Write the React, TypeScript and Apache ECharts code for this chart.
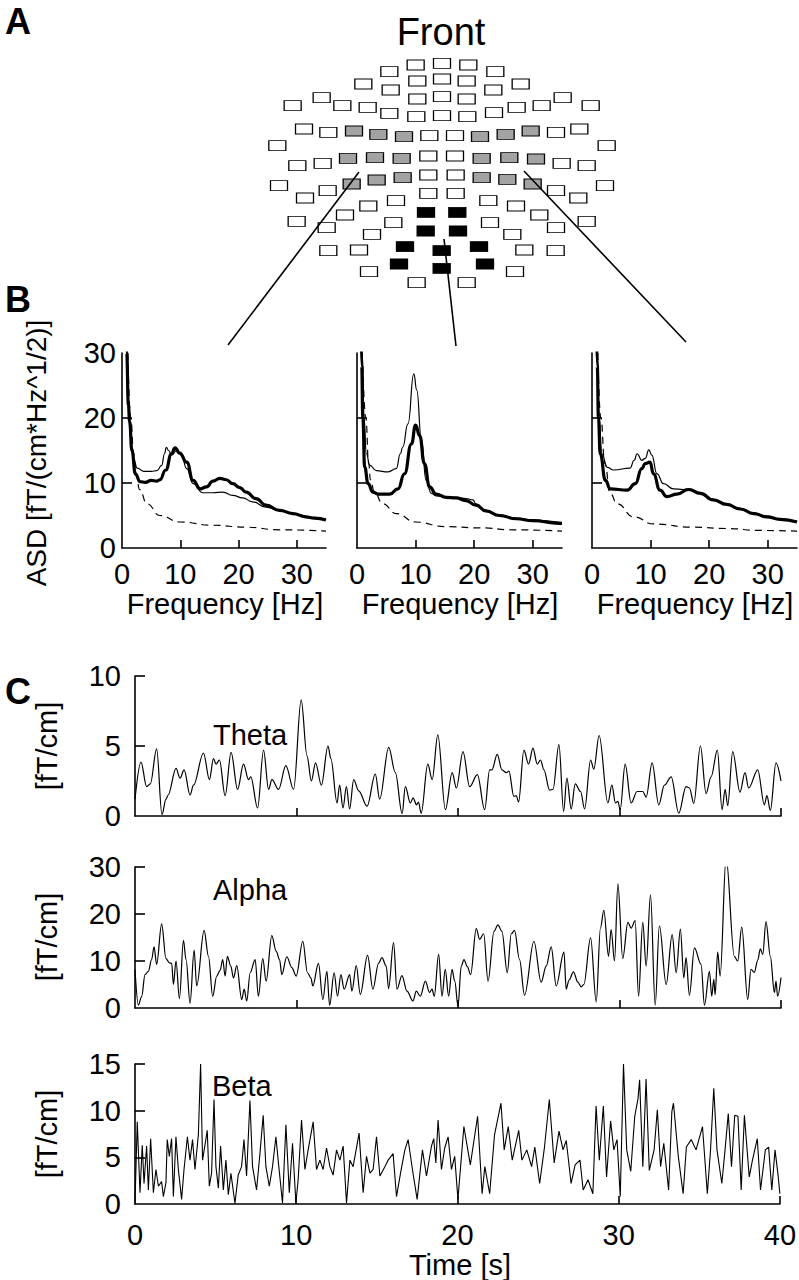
import React, { useEffect, useRef } from 'react';
import * as echarts from 'echarts';

const FONT = 'Liberation Sans, Arial, Helvetica, sans-serif';

// ---- Panel A: sensor layout (layout units, 3 units = 1 px) ----
const whiteSensors: [number, number][] = [
  [467, 75], [546, 70], [625, 75],
  [388, 95], [706, 95],
  [472, 123], [546, 117], [620, 123],
  [310, 132], [782, 132],
  [392, 150], [700, 150],
  [185, 173], [908, 173],
  [472, 177], [546, 170], [620, 177],
  [98, 197], [247, 197], [323, 202], [770, 202], [845, 197], [992, 197],
  [388, 220], [702, 218],
  [469, 230], [546, 227], [622, 230],
  [132, 267], [205, 277], [508, 287], [585, 287], [888, 277], [958, 267],
  [52, 317], [1040, 317],
  [112, 377], [188, 370], [505, 348], [585, 348], [905, 370], [980, 377],
  [57, 437], [505, 405], [587, 405], [1035, 437],
  [135, 474], [203, 452], [888, 452], [955, 474],
  [505, 460], [587, 460],
  [325, 498], [408, 482], [685, 482], [768, 498],
  [110, 544], [255, 525], [400, 548], [690, 548], [838, 525], [980, 544],
  [200, 563], [888, 563],
  [336, 583], [757, 583],
  [205, 632], [297, 630], [793, 630], [887, 632],
  [327, 695], [765, 695],
  [470, 728], [620, 728],
];
const graySensors: [number, number][] = [
  [282, 273], [355, 283], [432, 290], [660, 290], [737, 283], [812, 273],
  [264, 355], [345, 353], [425, 355], [665, 355], [748, 353], [828, 357],
  [275, 432], [350, 420], [428, 413], [665, 413], [742, 418], [818, 432],
];
const blackSensors: [number, number][] = [
  [498, 517], [592, 517], [497, 573], [594, 573], [435, 620], [545, 632],
  [657, 620], [417, 672], [545, 685], [675, 672],
];

// ---- Panel B: amplitude spectral density [f (Hz), ASD] ----
const freqLabels = [0, 10, 20, 30];
const asdLabels = [0, 10, 20, 30];

const leftThick: [number, number][] = [
  [0.5, 42], [0.8, 30], [1.1, 22], [1.3, 19.5], [1.7, 15], [2.3, 11.4], [3.1, 10.2], [4, 10.1],
  [5, 10.4], [6, 10.3], [6.5, 10.5], [7.5, 12], [8.5, 14.5], [9.1, 15.4], [9.9, 14.6], [11.1, 13.2],
  [12.2, 10.4], [13.4, 9.1], [14.5, 9.4], [15.6, 10.3], [16.8, 10.7], [17.9, 10.5], [19, 9.9],
  [20.2, 9.3], [21.3, 8.6], [23, 7.6], [24.7, 6.6], [27, 5.8], [29.3, 5.3], [31.5, 4.8], [33, 4.6], [35, 4.3],
];
const leftThin: [number, number][] = [
  [0.5, 42], [0.8, 30], [1.1, 22], [1.4, 17.5], [1.7, 15], [2.1, 13.3], [2.6, 12.3], [3.7, 11.8],
  [5, 11.8], [6, 11.9], [6.8, 12.7], [7.3, 14.5], [7.6, 15.5], [8, 15], [8.5, 14.3], [9.4, 15],
  [10.2, 14.3], [11.1, 12.2], [12.2, 9.9], [13.9, 8.5], [15.6, 8.5], [17.3, 8.6], [19, 8.1],
  [20.7, 7.7], [22.4, 7.1], [24.7, 6.3], [27, 5.8], [29.8, 5.2], [32.7, 4.7], [35, 4.4],
];
const leftDashed: [number, number][] = [
  [1.0, 30], [1.5, 20], [2.0, 14.5], [2.5, 11], [3, 9], [4.3, 6.8], [6.5, 5], [9.9, 4],
  [15.6, 3.5], [21.3, 3.2], [27, 2.8], [35, 2.6],
];
const midThick: [number, number][] = [
  [0.6, 40], [0.8, 28], [1.0, 20], [1.3, 12.5], [1.9, 9.9], [2.7, 8.6], [3.6, 8.3], [5.6, 8.3],
  [7, 9.1], [8.1, 11.4], [9.3, 16], [10, 18.9], [10.7, 17.3], [11.5, 13], [12.4, 9.4], [13.5, 8.3],
  [15.2, 7.8], [16.9, 7.7], [18.6, 7.3], [20.3, 6.6], [22, 5.7], [24.3, 5], [27.2, 4.5], [30, 4.2],
  [34.5, 3.8], [35, 3.8],
];
const midThin: [number, number][] = [
  [0.6, 42], [0.9, 30], [1.2, 20], [1.6, 14.5], [2.2, 12.7], [3.3, 11.9], [5.3, 11.7], [6.7, 12.2],
  [7.4, 14.5], [7.8, 15.5], [8.7, 19.1], [9.7, 26.8], [10.2, 24.3], [11, 16.6], [11.8, 10.4],
  [12.7, 8.4], [13.5, 8.0], [15.2, 7.9], [16.9, 7.8], [18.6, 7.6], [19.8, 7.4], [20.3, 6.8],
  [22, 5.8], [24.3, 5.1], [27.2, 4.6], [30, 4.3], [35, 3.9],
];
const midDashed: [number, number][] = [
  [1.0, 28], [1.5, 20], [2.0, 13], [2.3, 10.5], [3, 8.5], [4.4, 6.8], [6.7, 5.3], [10, 4],
  [15, 3.3], [20.9, 3.1], [26.6, 2.8], [35, 2.6],
];
const rightThick: [number, number][] = [
  [0.6, 42], [0.9, 28], [1.1, 20], [1.4, 14.5], [2.3, 10.4], [3.1, 9.1], [6, 8.9], [7.4, 9.9],
  [8.5, 12.2], [9.1, 13], [9.9, 13.2], [10.5, 11.4], [11.6, 8.9], [12.8, 7.9], [14.5, 8.3],
  [16.5, 9], [18.5, 8.4], [20.7, 7.4], [23, 6.7], [25.3, 6], [27.6, 5.3], [29.8, 4.8], [32.1, 4.4], [35, 4.0],
];
const rightThin: [number, number][] = [
  [0.6, 42], [0.9, 30], [1.2, 20], [1.7, 14.5], [2.6, 12.4], [3.7, 12], [6.5, 12.3], [7.2, 13.5],
  [7.7, 14.5], [8.5, 13.5], [9.1, 13.8], [9.7, 15.1], [10.2, 14.3], [11.1, 11.4], [12.2, 9.9],
  [13.9, 9.1], [15.6, 9], [16.5, 9.1], [18.5, 8.5], [20.7, 7.5], [23, 6.8], [25.3, 6.1],
  [27.6, 5.4], [29.8, 4.9], [32.1, 4.5], [35, 4.1],
];
const rightDashed: [number, number][] = [
  [1.0, 30], [1.5, 20], [2.2, 13], [3.1, 8.4], [4.3, 6.8], [7.1, 4.8], [10.5, 3.7], [17.3, 3.2],
  [23, 3], [28.7, 2.7], [35, 2.6],
];

// ---- Panel C: band-limited time courses [t (s), fT/cm] ----
const timeLabels = [0, 10, 20, 30, 40];
const thetaLabels = [0, 5, 10];
const alphaLabels = [0, 10, 20, 30];
const betaLabels = [0, 5, 10, 15];

const theta: [number, number][] = [
  [0, 1.2], [0.37, 3.85], [0.72, 2.1], [0.95, 2.3], [1.34, 4.8], [1.67, 0.1], [1.92, 1.2], [2.05, 1.5],
  [2.54, 3.4], [2.79, 2.7], [3.04, 3.3], [3.41, 1.5], [3.62, 2.2], [4.24, 4.5], [4.61, 2.6], [4.86, 4.1],
  [5.02, 3.7], [5.23, 4.0], [5.58, 1.45], [5.95, 4.55], [6.35, 1.9], [6.72, 3.7], [7.03, 2.6], [7.17, 2.8],
  [7.59, 0.57], [7.96, 4.7], [8.27, 1.9], [8.48, 2.6], [8.89, 1.9], [9.34, 3.6], [9.82, 1.9], [10.29, 8.3],
  [10.65, 4.3], [10.92, 2.5], [11.18, 3.8], [11.54, 2.2], [11.95, 5.0], [12.13, 4.1], [12.51, 0.93],
  [12.67, 2.2], [12.88, 0.57], [13.09, 2.1], [13.29, 0.5], [13.54, 2.6], [13.85, 1.8], [14.37, 0.7],
  [14.88, 3.0], [15.15, 1.2], [15.71, 4.9], [16.12, 3.1], [16.54, 0.17], [16.74, 2.1], [17.05, 0.93],
  [17.22, 1.3], [17.43, 0.8], [17.55, 1.0], [17.72, 0.2], [18.13, 3.7], [18.4, 2.6], [18.75, 5.8],
  [19.22, 0.45], [19.64, 3.1], [19.9, 2.0], [20.31, 4.6], [20.72, 2.1], [21.2, 2.95], [21.65, 0.45],
  [21.96, 3.3], [22.1, 3.3], [22.43, 4.4], [22.72, 3.3], [22.99, 3.1], [23.15, 3.2], [23.46, 1.4],
  [23.61, 1.45], [23.75, 1.0], [24.08, 4.7], [24.37, 3.7], [24.64, 4.85], [24.91, 3.7], [25.11, 4.0],
  [25.32, 3.3], [25.67, 1.85], [25.88, 1.9], [26.25, 5.1], [26.54, 0.33], [26.74, 2.7], [27.01, 0.5],
  [27.26, 2.3], [27.59, 1.75], [27.84, 0.5], [28.21, 4.0], [28.41, 3.35], [28.74, 5.75], [29.28, 0.93],
  [29.53, 2.2], [29.75, 0.93], [29.9, 1.05], [30.04, 0.45], [30.35, 3.7], [30.72, 0.93], [31.09, 1.75],
  [31.44, 1.75], [31.65, 1.35], [32.02, 3.8], [32.43, 0.8], [32.78, 2.2], [33.2, 2.8], [33.67, 0.2],
  [34.12, 2.1], [34.33, 2.0], [34.6, 0.9], [35.01, 5.0], [35.36, 1.6], [35.67, 2.8], [36.06, 4.7],
  [36.35, 0.45], [36.54, 1.9], [36.7, 0.74], [37.01, 4.6], [37.46, 1.7], [37.77, 3.1], [38.0, 2.0],
  [38.56, 3.3], [38.97, 0.8], [39.13, 1.45], [39.34, 0.4], [39.69, 3.8], [40, 2.5],
];

const alpha: [number, number][] = [
  [0, 8.2], [0.21, 0.6], [0.41, 2.4], [0.62, 7.1], [0.83, 7.8], [1.03, 10.3], [1.18, 13], [1.34, 9.3],
  [1.65, 17.9], [1.92, 10.5], [2.13, 9.6], [2.27, 9.5], [2.38, 5.0], [2.54, 10], [2.75, 2.0], [3.0, 14.4],
  [3.16, 10.3], [3.41, 1.0], [3.66, 12.3], [3.82, 4.7], [4.28, 16.5], [4.55, 11], [4.81, 2.5], [5.06, 6.8],
  [5.27, 8.0], [5.43, 10.3], [5.58, 6.8], [5.72, 11], [5.93, 8.9], [6.1, 6.4], [6.3, 9], [6.61, 1.8],
  [6.76, 4.0], [6.92, 1.5], [7.13, 7.5], [7.44, 10.3], [7.64, 2.5], [7.91, 10.5], [8.12, 5.7], [8.47, 15.4],
  [8.74, 12.1], [8.95, 10.3], [9.09, 7.1], [9.4, 10.9], [9.71, 8.6], [9.98, 6.8], [10.39, 14.2], [10.68, 7.5],
  [10.89, 6.4], [11.01, 4.7], [11.36, 9.5], [11.63, 1.8], [11.88, 7.8], [12.05, 0.6], [12.33, 7.5],
  [12.54, 2.5], [12.75, 7.1], [12.95, 4.0], [13.29, 7.1], [13.43, 3.6], [13.7, 9], [13.95, 2.9],
  [14.4, 11.2], [14.73, 4.0], [15.08, 9.5], [15.29, 10.7], [15.56, 8.9], [15.7, 4.1], [16.01, 13.9],
  [16.22, 4.0], [16.53, 6.9], [16.84, 3.6], [17.21, 1.5], [17.42, 3.6], [17.67, 2.5], [17.98, 5.7],
  [18.24, 3.3], [18.39, 4.0], [18.53, 2.5], [18.8, 11.4], [19.01, 2.5], [19.21, 8.2], [19.42, 2.5],
  [19.63, 8.2], [19.8, 5.7], [20, 0.4], [20.2, 8.9], [20.37, 10.3], [20.58, 8.8], [20.78, 7.1],
  [21.13, 16.9], [21.34, 14.6], [21.59, 15.8], [21.86, 5.7], [22.23, 16.3], [22.47, 17.7], [22.72, 16.3],
  [23.05, 7.5], [23.3, 15.8], [23.5, 16.5], [23.81, 10.3], [24.12, 2.7], [24.7, 14.2], [25.15, 5.5],
  [25.46, 8.9], [25.77, 13], [26.08, 4.7], [26.56, 11.9], [26.7, 4.0], [26.87, 5.9], [27.15, 7.7],
  [27.42, 5.5], [27.63, 4.5], [27.79, 5.0], [28.21, 14.9], [28.56, 1.3], [28.82, 17], [29.03, 20.8],
  [29.32, 11], [29.48, 16.7], [29.69, 10], [29.9, 26.4], [30.2, 10.5], [30.52, 18.2], [30.72, 17],
  [30.97, 18.6], [31.18, 2.5], [31.44, 18.2], [31.65, 8.9], [31.92, 24.1], [32.21, 0.6], [32.47, 17.5],
  [32.89, 5.0], [33.26, 15.6], [33.51, 7.5], [33.77, 16.8], [33.98, 6.4], [34.12, 10.7], [34.33, 2.7],
  [34.64, 12.8], [35.05, 9.3], [35.26, 0.6], [35.57, 7.8], [35.71, 2.5], [35.84, 6.1], [35.92, 2.8],
  [36.08, 11.9], [36.23, 6.8], [36.6, 32], [37.11, 11], [37.32, 10], [37.57, 17.2], [37.94, 1.8],
  [38.14, 8.2], [38.35, 7.6], [38.56, 10.2], [38.72, 12.6], [38.87, 11.4], [39.07, 18.4], [39.34, 11],
  [39.59, 3.3], [39.69, 5.7], [39.79, 2.5], [40, 6.5],
];

const beta: [number, number][] = [
  [0, 0.1], [0.14, 8.8], [0.31, 1.2], [0.45, 6.3], [0.56, 2.2], [0.72, 6.2], [0.83, 1.5], [0.97, 7.0],
  [1.14, 1.2], [1.3, 3.7], [1.45, 1.9], [1.65, 2.4], [1.76, 0.8], [1.92, 2.3], [2.0, 6.9], [2.13, 5.1],
  [2.27, 7.0], [2.38, 0.8], [2.54, 7.2], [2.69, 3.7], [2.89, 0.5], [3.04, 3.7], [3.25, 7.2], [3.41, 4.7],
  [3.57, 6.9], [3.72, 3.7], [3.93, 7.4], [4.07, 15], [4.19, 4.7], [4.34, 6.3], [4.48, 7.9], [4.61, 1.9],
  [4.75, 3.3], [4.9, 11.2], [5.02, 4.0], [5.17, 1.7], [5.31, 6.2], [5.48, 1.5], [5.64, 4.7], [5.79, 1.0],
  [5.95, 3.3], [6.2, 0.05], [6.4, 3.1], [6.61, 4.0], [6.76, 6.9], [6.92, 3.0], [7.13, 11.1], [7.29, 4.0],
  [7.54, 1.5], [7.75, 5.4], [7.95, 9.5], [8.12, 4.0], [8.33, 1.9], [8.53, 4.0], [8.74, 7.2], [8.88, 4.7],
  [9.15, 0.1], [9.36, 8.5], [9.57, 1.2], [9.77, 6.5], [9.98, 0.1], [10.12, 2.6], [10.33, 9.0], [10.54, 3.7],
  [10.74, 5.8], [11.05, 8.8], [11.26, 3.7], [11.47, 4.7], [11.67, 3.7], [11.88, 6.0], [12.09, 4.0],
  [12.29, 3.1], [12.5, 5.8], [12.71, 4.7], [12.91, 6.2], [13.12, 0.1], [13.33, 4.7], [13.53, 4.0],
  [13.9, 7.6], [14.15, 1.2], [14.36, 5.1], [14.57, 3.3], [14.77, 3.7], [14.98, 7.2], [15.19, 3.0],
  [15.5, 4.0], [15.7, 4.7], [16.01, 5.4], [16.22, 0.8], [16.47, 3.3], [16.74, 5.8], [16.94, 6.9],
  [17.21, 3.7], [17.5, 0.5], [17.83, 5.8], [18.08, 3.0], [18.39, 6.2], [18.53, 7.0], [18.66, 4.4],
  [18.8, 9.0], [19.01, 3.7], [19.21, 6.0], [19.42, 7.2], [19.63, 3.7], [19.83, 5.1], [20.03, 0.5],
  [20.4, 8.3], [20.8, 4.2], [21.25, 9.4], [21.53, 1.1], [21.7, 4.0], [22.0, 1.1], [22.3, 7.4],
  [22.7, 10.8], [22.9, 5.8], [23.15, 8.3], [23.4, 4.7], [23.8, 7.9], [24.0, 4.7], [24.3, 5.8],
  [24.6, 4.0], [24.8, 6.1], [25.1, 2.2], [25.4, 6.1], [25.7, 11.2], [26.0, 4.4], [26.3, 7.8],
  [26.55, 5.8], [26.75, 6.8], [27.05, 2.2], [27.3, 4.2], [27.6, 4.7], [27.8, 1.5], [28.1, 2.6],
  [28.4, 1.1], [28.6, 10.5], [28.8, 4.7], [29.05, 10.5], [29.25, 2.9], [29.5, 8.9], [29.7, 5.8],
  [29.9, 6.9], [30.1, 0.8], [30.3, 15], [30.5, 5.8], [30.75, 3.5], [31.0, 9.4], [31.2, 11.3],
  [31.3, 13.3], [31.5, 4.0], [31.7, 13.4], [31.9, 3.6], [32.2, 5.8], [32.4, 10.1], [32.6, 4.0],
  [32.8, 6.5], [33.1, 1.5], [33.3, 9.9], [33.4, 10.8], [33.7, 5.1], [34.0, 1.1], [34.2, 6.1],
  [34.5, 6.9], [34.8, 5.8], [35.2, 8.3], [35.5, 1.1], [35.7, 5.8], [35.9, 12.4], [36.1, 5.8],
  [36.4, 2.2], [36.6, 5.8], [36.8, 9.7], [37.0, 4.0], [37.2, 9.5], [37.4, 9.4], [37.6, 1.5],
  [37.8, 9.5], [38.1, 2.9], [38.3, 4.7], [38.6, 7.0], [38.8, 1.5], [39.1, 5.8], [39.3, 6.1],
  [39.5, 1.5], [39.7, 5.8], [39.9, 2.9], [40, 1.1],
];

// ---- layout ----
const grids = [
  { left: 260, top: 40, width: 360, height: 260 }, // sensors
  { left: 122, top: 353, width: 204, height: 195 }, // B left
  { left: 357, top: 353, width: 205, height: 195 }, // B middle
  { left: 592, top: 353, width: 205, height: 195 }, // B right
  { left: 135, top: 676, width: 646, height: 140 }, // theta
  { left: 135, top: 867, width: 646, height: 141 }, // alpha
  { left: 135, top: 1064, width: 646, height: 140 }, // beta
];

const AX = { color: '#000', width: 1.6 };
const TICK_FS = 29;
const NAME_FS = 29;

function xAx(gi: number, max: number, ticks: number[], labels: number[] | null, margin = 10) {
  return {
    type: 'value', gridIndex: gi, min: 0, max,
    axisLine: { show: true, onZero: false, lineStyle: AX },
    axisTick: { show: true, inside: true, length: 8, lineStyle: AX, customValues: ticks },
    axisLabel: labels
      ? { show: true, customValues: labels, fontSize: TICK_FS, lineHeight: TICK_FS, color: '#000', fontFamily: FONT, margin }
      : { show: false },
    splitLine: { show: false },
  };
}
function yAx(gi: number, max: number, ticks: number[], labels: number[] | null, margin = 10) {
  return {
    type: 'value', gridIndex: gi, min: 0, max,
    axisLine: { show: true, onZero: false, lineStyle: AX },
    axisTick: { show: true, inside: true, length: 10, lineStyle: AX, customValues: ticks },
    axisLabel: labels
      ? { show: true, customValues: labels, fontSize: TICK_FS, lineHeight: TICK_FS, color: '#000', fontFamily: FONT, margin }
      : { show: false },
    splitLine: { show: false },
  };
}

function lineSeries(gi: number, data: [number, number][], width: number, dashed = false, smooth: number | boolean = true) {
  return {
    type: 'line', xAxisIndex: gi, yAxisIndex: gi, data, showSymbol: false, symbol: 'none',
    smooth, smoothMonotone: 'x', clip: true, silent: true,
    lineStyle: { color: '#000', width, type: dashed ? [7, 5] : 'solid' },
  };
}

function sensorSeries(data: [number, number][], color: string) {
  return {
    type: 'scatter', xAxisIndex: 0, yAxisIndex: 0, data, symbol: 'rect', symbolSize: [17, 10],
    silent: true,
    itemStyle: { color, borderColor: '#000', borderWidth: 1, opacity: 1 },
  };
}

function txt(text: string, x: number, y: number, size: number, opts: any = {}) {
  return {
    type: 'text', x, y, z: 100, rotation: opts.rotation || 0,
    style: {
      text, fill: '#000', fontSize: size, lineHeight: size, fontFamily: FONT,
      fontWeight: opts.bold ? 'bold' : 'normal',
      textAlign: opts.align || 'center', textVerticalAlign: 'middle',
    },
  };
}
function seg(x1: number, y1: number, x2: number, y2: number) {
  return { type: 'line', z: 100, shape: { x1, y1, x2, y2 }, style: { stroke: '#000', lineWidth: 1.6 } };
}

export default function App() {
  const ref = useRef<HTMLDivElement>(null);
  useEffect(() => {
    document.body.style.margin = '0';
    const chart = echarts.init(ref.current!, null, { renderer: 'svg' });
    const option: any = {
      animation: false,
      backgroundColor: '#fff',
      grid: grids.map((g) => ({ ...g, containLabel: false })),
      xAxis: [
        { type: 'value', gridIndex: 0, min: 0, max: 1080, show: false },
        xAx(1, 35, [10, 20, 30], freqLabels, 11),
        xAx(2, 35, [10, 20, 30], freqLabels, 11),
        xAx(3, 35, [10, 20, 30], freqLabels, 11),
        xAx(4, 40, [10, 20, 30, 40], null),
        xAx(5, 40, [10, 20, 30, 40], null),
        xAx(6, 40, [10, 20, 30, 40], timeLabels, 16),
      ],
      yAxis: [
        { type: 'value', gridIndex: 0, min: 0, max: 780, inverse: true, show: false },
        yAx(1, 30, [10, 20], asdLabels, 6),
        yAx(2, 30, [10, 20], null),
        yAx(3, 30, [10, 20], null),
        yAx(4, 10, [5, 10], thetaLabels, 14),
        yAx(5, 30, [10, 20, 30], alphaLabels, 14),
        yAx(6, 15, [5, 10, 15], betaLabels, 14),
      ],
      series: [
        sensorSeries(whiteSensors, '#ffffff'),
        sensorSeries(graySensors, '#a3a3a3'),
        sensorSeries(blackSensors, '#000000'),
        lineSeries(1, leftDashed, 1.2, true),
        lineSeries(1, leftThin, 1.2),
        lineSeries(1, leftThick, 3.2),
        lineSeries(2, midDashed, 1.2, true),
        lineSeries(2, midThin, 1.2),
        lineSeries(2, midThick, 3.2),
        lineSeries(3, rightDashed, 1.2, true),
        lineSeries(3, rightThin, 1.2),
        lineSeries(3, rightThick, 3.2),
        lineSeries(4, theta, 1.2, false, 0.35),
        lineSeries(5, alpha, 1.2, false, 0.35),
        lineSeries(6, beta, 1.1, false, false),
      ],
      graphic: [
        txt('A', 5, 21, 36, { bold: true, align: 'left' }),
        txt('B', 5, 299, 36, { bold: true, align: 'left' }),
        txt('C', 5, 691, 36, { bold: true, align: 'left' }),
        txt('Front', 441, 32, 38),
        seg(359, 172, 228, 345),
        seg(444, 239, 456, 346),
        seg(524, 171, 686, 342),
        txt('ASD [fT/(cm*Hz^1/2)]', 36, 453, 28, { rotation: Math.PI / 2 }),
        txt('Frequency [Hz]', 225, 604, NAME_FS),
        txt('Frequency [Hz]', 460, 604, NAME_FS),
        txt('Frequency [Hz]', 695, 604, NAME_FS),
        txt('Theta', 213, 735, NAME_FS, { align: 'left' }),
        txt('Alpha', 213, 890, NAME_FS, { align: 'left' }),
        txt('Beta', 212, 1086, NAME_FS, { align: 'left' }),
        txt('[fT/cm]', 47, 746, NAME_FS, { rotation: Math.PI / 2 }),
        txt('[fT/cm]', 47, 937, NAME_FS, { rotation: Math.PI / 2 }),
        txt('[fT/cm]', 47, 1134, NAME_FS, { rotation: Math.PI / 2 }),
        txt('Time [s]', 460, 1265, NAME_FS),
      ],
    };
    chart.setOption(option);
    return () => chart.dispose();
  }, []);
  return <div ref={ref} style={{ width: 799, height: 1280 }} />;
}
